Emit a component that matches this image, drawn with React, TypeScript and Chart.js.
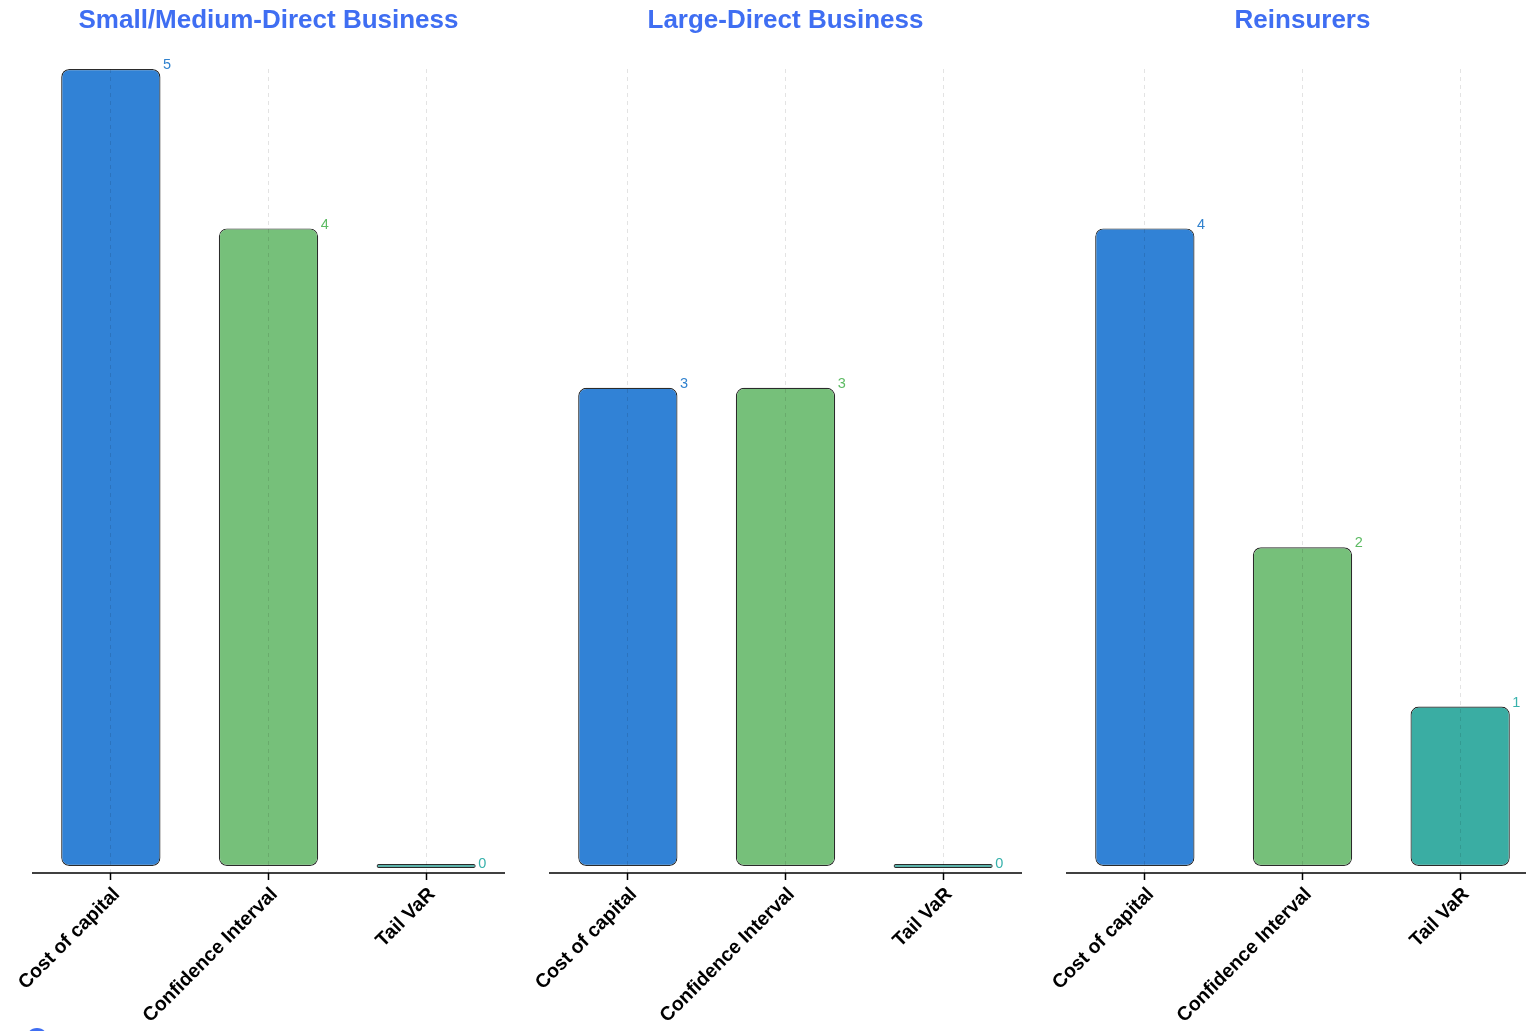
import React, { useEffect, useRef } from "react";
import { Chart, registerables } from "chart.js";

Chart.register(...registerables);

const categories = ["Cost of capital", "Confidence Interval", "Tail VaR"];
const panelTitles = ["Small/Medium-Direct Business", "Large-Direct Business", "Reinsurers"];
const smallMediumValues = [5, 4, 0];
const largeValues = [3, 3, 0];
const reinsurerValues = [4, 2, 1];
const barColors = ["#3182D6", "#76C07A", "#3AADA3"];
const labelColors = ["#3182CE", "#5DBB63", "#38B2AC"];

const FONT = '"Liberation Sans", Arial, Helvetica, sans-serif';
const CHART_LEFTS = [32, 549, 1066];
const AREA_W = 473;
const PAD = 30;
const CANVAS_H = 1090;

const valueLabelPlugin = {
  id: "valueLabels",
  afterDatasetsDraw(chart: any) {
    const ctx = chart.ctx;
    const meta = chart.getDatasetMeta(0);
    const data = chart.data.datasets[0].data;
    ctx.save();
    ctx.font = `14.5px ${FONT}`;
    ctx.textAlign = "left";
    ctx.textBaseline = "bottom";
    meta.data.forEach((el: any, i: number) => {
      const p = el.getProps(["x", "y", "width"], true);
      ctx.fillStyle = labelColors[i];
      ctx.fillText(String(data[i]), p.x + p.width / 2 + 2.5, p.y + 3.5);
    });
    ctx.restore();
  },
};

const axisLinePlugin = {
  id: "axisLine",
  afterDraw(chart: any) {
    const { ctx, chartArea } = chart;
    ctx.save();
    ctx.strokeStyle = "#000";
    ctx.lineWidth = 1.5;
    ctx.beginPath();
    ctx.moveTo(chartArea.left, chartArea.bottom);
    ctx.lineTo(chartArea.right, chartArea.bottom);
    ctx.stroke();
    ctx.restore();
  },
};

function Panel({ title, values, left }: { title: string; values: number[]; left: number }) {
  const ref = useRef<HTMLCanvasElement>(null);
  useEffect(() => {
    if (!ref.current) return;
    const chart = new Chart(ref.current, {
      type: "bar",
      data: {
        labels: categories,
        datasets: [
          {
            data: values,
            backgroundColor: barColors,
            borderColor: "#2b2b2b",
            borderWidth: 1.2,
            borderRadius: 8,
            borderSkipped: false,
            minBarLength: 4,
            barPercentage: 0.63,
            categoryPercentage: 1,
          },
        ],
      },
      options: {
        responsive: false,
        animation: false,
        devicePixelRatio: 1,
        layout: { padding: { left: PAD, right: PAD, top: 0, bottom: 0 } },
        plugins: {
          legend: { display: false },
          tooltip: { enabled: false },
          title: {
            display: true,
            text: title,
            color: "#3F6EF2",
            font: { family: FONT, size: 26, weight: "bold", lineHeight: 1.2 },
            padding: { top: 5.4, bottom: 32.4 },
          },
        },
        scales: {
          y: {
            display: false,
            min: -0.044,
            max: 5,
          },
          x: {
            afterFit(scale: any) {
              scale.height = CANVAS_H - 873;
            },
            grid: {
              offset: false,
              color: "rgba(0,0,0,0.11)",
              tickColor: "#000",
              tickLength: 7,
              tickBorderDash: [],
              tickWidth: 1.5,
              lineWidth: 1,
              z: 1,
            },
            border: { display: false, dash: [4, 4] },
            ticks: {
              color: "#000",
              minRotation: 45,
              maxRotation: 45,
              autoSkip: false,
              padding: 3,
              labelOffset: 6,
              font: { family: FONT, size: 19.5, weight: "bold" },
            },
          },
        },
      },
      plugins: [valueLabelPlugin, axisLinePlugin],
    });
    return () => chart.destroy();
  }, [title, values]);
  return (
    <canvas
      ref={ref}
      width={AREA_W + 2 * PAD}
      height={CANVAS_H}
      style={{ position: "absolute", left: left - PAD, top: 0, width: AREA_W + 2 * PAD, height: CANVAS_H }}
    />
  );
}

export default function App() {
  return (
    <div
      style={{
        position: "fixed",
        left: 0,
        top: 0,
        width: "100vw",
        height: "100vh",
        overflow: "hidden",
        background: "#fff",
      }}
    >
      <Panel title={panelTitles[0]} values={smallMediumValues} left={CHART_LEFTS[0]} />
      <Panel title={panelTitles[1]} values={largeValues} left={CHART_LEFTS[1]} />
      <Panel title={panelTitles[2]} values={reinsurerValues} left={CHART_LEFTS[2]} />
      <div
        style={{
          position: "absolute",
          left: 26,
          top: 1028,
          width: 22,
          height: 22,
          borderRadius: "50%",
          background: "#3F6EF2",
        }}
      />
    </div>
  );
}
